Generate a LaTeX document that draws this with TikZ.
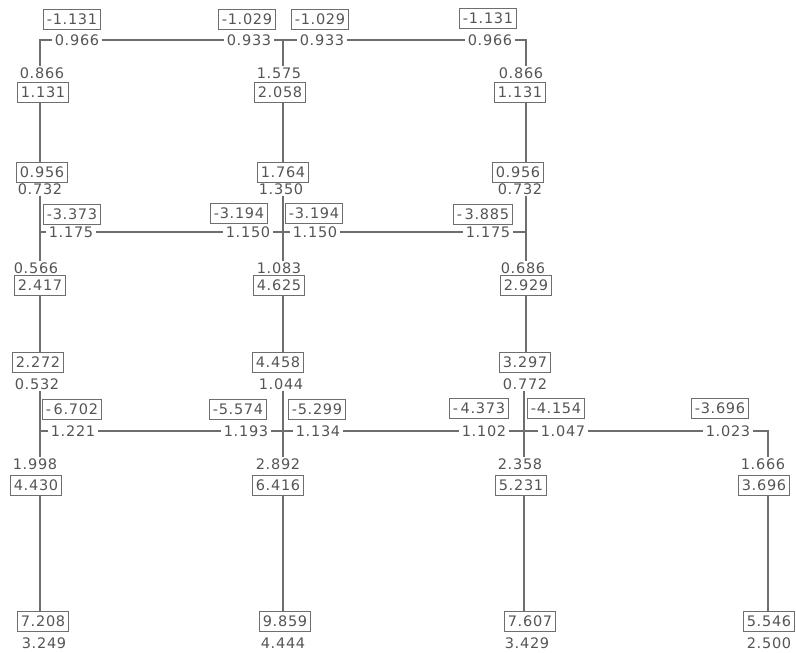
\documentclass[tikz,border=0pt]{standalone}
\usepackage{fontspec}
\newfontfamily\labfont{DejaVu Sans}[LetterSpace=5]
\definecolor{ink}{HTML}{555555}
\definecolor{lin}{HTML}{6E6E6E}
\tikzset{
  val/.style={text=ink, inner xsep=3pt, inner ysep=1pt, font=\labfont\fontsize{14.5}{16}\selectfont},
  bx/.style={val, draw=lin, line width=1pt, inner xsep=3.5pt, inner ysep=0pt, minimum height=20pt},
  mem/.style={draw=lin, line width=1.2pt},
}
\begin{document}
\begin{tikzpicture}[x=1pt,y=-1pt]
\useasboundingbox[fill=white] (0,0) rectangle (796,653);
% column references
\coordinate (X1) at (40,0);
\coordinate (X2) at (283,0);
\coordinate (X3) at (526,0);
\coordinate (X3b) at (524,0);
\coordinate (X4) at (768,0);
% top beam
\node[bx] (bt1) at (72,19) {-1.131};
\node[bx] (bt2a) at (247,19) {-1.029};
\node[bx] (bt2b) at (320,19) {-1.029};
\node[bx] (bt3) at (488,18) {-1.131};
\node[val] (t1a) at (77,40) {0.966};
\node[val] (t2a) at (249,40) {0.933};
\node[val] (t2b) at (322,40) {0.933};
\node[val] (t3a) at (490,40) {0.966};
\node[val] (a1) at (42,73) {0.866};
\node[val] (a2) at (279,73) {1.575};
\node[val] (a3) at (521,73) {0.866};
\node[bx] (b1) at (43,92) {1.131};
\node[bx] (b2) at (280,92) {2.058};
\node[bx] (b3) at (520,92) {1.131};
% second level
\node[bx] (c1) at (42,172) {0.956};
\node[bx] (c2) at (283,172) {1.764};
\node[bx] (c3) at (518,172) {0.956};
\node[val] (d1) at (40,189) {0.732};
\node[val] (d2) at (281,189) {1.350};
\node[val] (d3) at (520,189) {0.732};
\node[bx] (e1) at (72,214) {-3.373};
\node[bx] (e2a) at (239,213) {-3.194};
\node[bx] (e2b) at (314,213) {-3.194};
\node[bx] (e3) at (483,214) {-\,3.885};
\node[val] (f1) at (71,232) {1.175};
\node[val] (f2a) at (248,232) {1.150};
\node[val] (f2b) at (315,232) {1.150};
\node[val] (f3) at (488,232) {1.175};
\node[val] (g1) at (36,268) {0.566};
\node[val] (g2) at (279,268) {1.083};
\node[val] (g3) at (523,268) {0.686};
\node[bx] (h1) at (40,285) {2.417};
\node[bx] (h2) at (279,285) {4.625};
\node[bx] (h3) at (526,285) {2.929};
% third level
\node[bx] (i1) at (38,362) {2.272};
\node[bx] (i2) at (278,362) {4.458};
\node[bx] (i3) at (525,362) {3.297};
\node[val] (j1) at (37,384) {0.532};
\node[val] (j2) at (281,384) {1.044};
\node[val] (j3) at (525,384) {0.772};
\node[bx] (k1) at (72,409) {-\,6.702};
\node[bx] (k2a) at (238,409) {-5.574};
\node[bx] (k2b) at (317,409) {-5.299};
\node[bx] (k3a) at (479,408) {-\,4.373};
\node[bx] (k3b) at (556,408) {-4.154};
\node[bx] (k4) at (720,408) {-3.696};
\node[val] (l1) at (73,431) {1.221};
\node[val] (l2a) at (246,431) {1.193};
\node[val] (l2b) at (318,431) {1.134};
\node[val] (l3a) at (484,431) {1.102};
\node[val] (l3b) at (563,431) {1.047};
\node[val] (l4) at (728,431) {1.023};
\node[val] (m1) at (35,464) {1.998};
\node[val] (m2) at (278,464) {2.892};
\node[val] (m3) at (520,464) {2.358};
\node[val] (m4) at (763,464) {1.666};
\node[bx] (n1) at (36,485) {4.430};
\node[bx] (n2) at (278,485) {6.416};
\node[bx] (n3) at (521,485) {5.231};
\node[bx] (n4) at (764,485) {3.696};
% bases
\node[bx] (o1) at (43,621) {7.208};
\node[bx] (o2) at (285,621) {9.859};
\node[bx] (o3) at (530,621) {7.607};
\node[bx] (o4) at (769,621) {5.546};
\node[val] (p1) at (44,643) {3.249};
\node[val] (p2) at (283,643) {4.444};
\node[val] (p3) at (527,643) {3.429};
\node[val] (p4) at (769,643) {2.500};
% ---- members ----
% top beam
\draw[mem] (a1.north -| X1) |- (t1a.west);
\draw[mem] (t1a.east) -- (t2a.west);
\draw[mem] (t2a.east) -- (t2b.west);
\draw[mem] (a2.north -| X2) -- (t2a.east -| X2);
\draw[mem] (t2b.east) -- (t3a.west);
\draw[mem] (t3a.east) -| (a3.north -| X3);
% upper columns
\draw[mem] (b1.south -| X1) -- (c1.north -| X1);
\draw[mem] (b2.south -| X2) -- (c2.north -| X2);
\draw[mem] (b3.south -| X3) -- (c3.north -| X3);
% second beam
\draw[mem] (d1.south -| X1) -- (g1.north -| X1);
\draw[mem] (X1 |- f1) -- (f1.west);
\draw[mem] (f1.east) -- (f2a.west);
\draw[mem] (f2a.east) -- (f2b.west);
\draw[mem] (d2.south -| X2) -- (g2.north -| X2);
\draw[mem] (f2b.east) -- (f3.west);
\draw[mem] (f3.east) -- (X3 |- f3);
\draw[mem] (d3.south -| X3) -- (g3.north -| X3);
% middle columns
\draw[mem] (h1.south -| X1) -- (i1.north -| X1);
\draw[mem] (h2.south -| X2) -- (i2.north -| X2);
\draw[mem] (h3.south -| X3) -- (i3.north -| X3);
% third beam
\draw[mem] (j1.south -| X1) -- (m1.north -| X1);
\draw[mem] (X1 |- l1) -- (l1.west);
\draw[mem] (l1.east) -- (l2a.west);
\draw[mem] (l2a.east) -- (l2b.west);
\draw[mem] (j2.south -| X2) -- (m2.north -| X2);
\draw[mem] (l2b.east) -- (l3a.west);
\draw[mem] (l3a.east) -- (l3b.west);
\draw[mem] (j3.south -| X3b) -- (m3.north -| X3b);
\draw[mem] (l3b.east) -- (l4.west);
\draw[mem] (l4.east) -| (m4.north -| X4);
% lower columns
\draw[mem] (n1.south -| X1) -- (o1.north -| X1);
\draw[mem] (n2.south -| X2) -- (o2.north -| X2);
\draw[mem] (n3.south -| X3b) -- (o3.north -| X3b);
\draw[mem] (n4.south -| X4) -- (o4.north -| X4);
\end{tikzpicture}
\end{document}
